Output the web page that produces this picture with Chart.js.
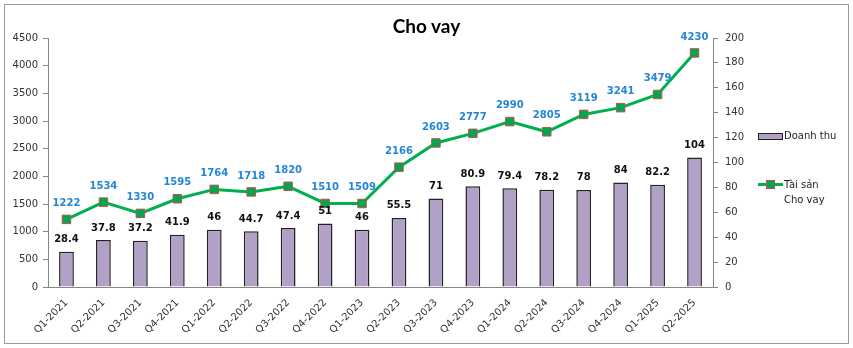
<!DOCTYPE html>
<html>
<head>
<meta charset="utf-8">
<script src="https://cdn.jsdelivr.net/npm/chart.js@4/dist/chart.umd.min.js"></script>
<style>
    html, body { margin: 0; padding: 0; background: #fff; }
    #wrap { position: relative; width: 853px; height: 348px; }
    #frame {
        position: absolute; left: 4px; top: 4px; width: 845px; height: 340px;
        box-sizing: border-box; border: 1px solid #9a9a9a; pointer-events: none;
    }
    #title {
        position: absolute; left: 0; width: 853px; top: 14px; text-align: center;
        font: bold 19px Lato, sans-serif; color: #000;
    }
    .legend { position: absolute; font: 10px "DejaVu Sans", sans-serif; color: #222; line-height: 15px; }
    .swatch-bar {
        position: absolute; left: 0; top: 5px; width: 23px; height: 5px;
        background: #b2a1c7; border: 1px solid #222;
    }
    .swatch-line {
        position: absolute; left: 0; top: 6px; width: 25px; height: 3px; background: #00b050;
    }
    .swatch-mark {
        position: absolute; left: 8px; top: 3px; width: 7px; height: 7px;
        background: #00a650; border: 1px solid #c0504d;
    }
</style>
</head>
<body>
<div id="wrap">
    <canvas id="chart" width="853" height="348"></canvas>
    <div id="frame"></div>
    <div id="title">Cho vay</div>
    <div class="legend" style="left:758px; top:128px;">
        <span class="swatch-bar"></span><span style="margin-left:26px;">Doanh thu</span>
    </div>
    <div class="legend" style="left:758px; top:177px;">
        <span class="swatch-line"></span><span class="swatch-mark"></span>
        <div style="margin-left:26px;">Tài sản<br>Cho vay</div>
    </div>
</div>
<script>
// Quarterly categories
const quarters = [
    'Q1-2021', 'Q2-2021', 'Q3-2021', 'Q4-2021',
    'Q1-2022', 'Q2-2022', 'Q3-2022', 'Q4-2022',
    'Q1-2023', 'Q2-2023', 'Q3-2023', 'Q4-2023',
    'Q1-2024', 'Q2-2024', 'Q3-2024', 'Q4-2024',
    'Q1-2025', 'Q2-2025'
];

// Revenue (bars, right axis)
const doanhThu = [28.4, 37.8, 37.2, 41.9, 46, 44.7, 47.4, 51, 46, 55.5, 71, 80.9, 79.4, 78.2, 78, 84, 82.2, 104];

// Loan assets (line, left axis)
const taiSanChoVay = [1222, 1534, 1330, 1595, 1764, 1718, 1820, 1510, 1509, 2166, 2603, 2777, 2990, 2805, 3119, 3241, 3479, 4230];

const axisColor = '#868686';
const tickFont = { family: 'DejaVu Sans', size: 10 };

// Draws the value above every bar and every line point
const valueLabels = {
    id: 'valueLabels',
    afterDatasetsDraw(chart) {
        const ctx = chart.ctx;
        ctx.save();
        ctx.textAlign = 'center';
        ctx.textBaseline = 'middle';
        ctx.font = 'bold 10px "DejaVu Sans"';

        chart.getDatasetMeta(0).data.forEach((bar, i) => {
            ctx.fillStyle = '#111';
            ctx.fillText(String(doanhThu[i]), bar.x, bar.y - 12);
        });

        chart.getDatasetMeta(1).data.forEach((pt, i) => {
            ctx.fillStyle = '#2585d6';
            ctx.fillText(String(taiSanChoVay[i]), pt.x, pt.y - 16);
        });
        ctx.restore();
    }
};

new Chart(document.getElementById('chart'), {
    data: {
        labels: quarters,
        datasets: [{
            type: 'bar',
            label: 'Doanh thu',
            data: doanhThu,
            yAxisID: 'y1',
            backgroundColor: '#b2a1c7',
            borderColor: '#222',
            borderWidth: 1.5,
            barPercentage: 0.4,
            categoryPercentage: 1,
            order: 2
        }, {
            type: 'line',
            label: 'Tài sản Cho vay',
            data: taiSanChoVay,
            yAxisID: 'y',
            borderColor: '#00b050',
            borderWidth: 3,
            tension: 0,
            pointStyle: 'rect',
            pointRadius: 6,
            pointBackgroundColor: '#00a650',
            pointBorderColor: '#c0504d',
            pointBorderWidth: 1,
            order: 1
        }]
    },
    options: {
        responsive: false,
        animation: false,
        layout: {
            padding: { top: 38, left: 0, right: 0, bottom: 0 }
        },
        plugins: {
            legend: { display: false },
            title: { display: false },
            tooltip: { enabled: false }
        },
        scales: {
            x: {
                grid: { display: false },
                border: { display: true, color: axisColor },
                ticks: {
                    font: tickFont,
                    color: '#333',
                    maxRotation: 45,
                    minRotation: 45,
                    padding: 2
                },
                afterFit(scale) { scale.height = 61; }
            },
            y: {
                position: 'left',
                min: 0,
                max: 4500,
                ticks: {
                    stepSize: 500,
                    font: tickFont,
                    color: '#333',
                    padding: 5,
                    callback: (value) => String(value)
                },
                grid: { drawOnChartArea: false, drawTicks: true, tickLength: 5, color: axisColor },
                border: { color: axisColor },
                afterFit(scale) { scale.width = 48; }
            },
            y1: {
                position: 'right',
                min: 0,
                max: 200,
                ticks: { stepSize: 20, font: tickFont, color: '#333', padding: 7 },
                grid: { drawOnChartArea: false, drawTicks: true, tickLength: 5, color: axisColor },
                border: { color: axisColor },
                afterFit(scale) { scale.width = 140; }
            }
        }
    },
    plugins: [valueLabels]
});
</script>
</body>
</html>
